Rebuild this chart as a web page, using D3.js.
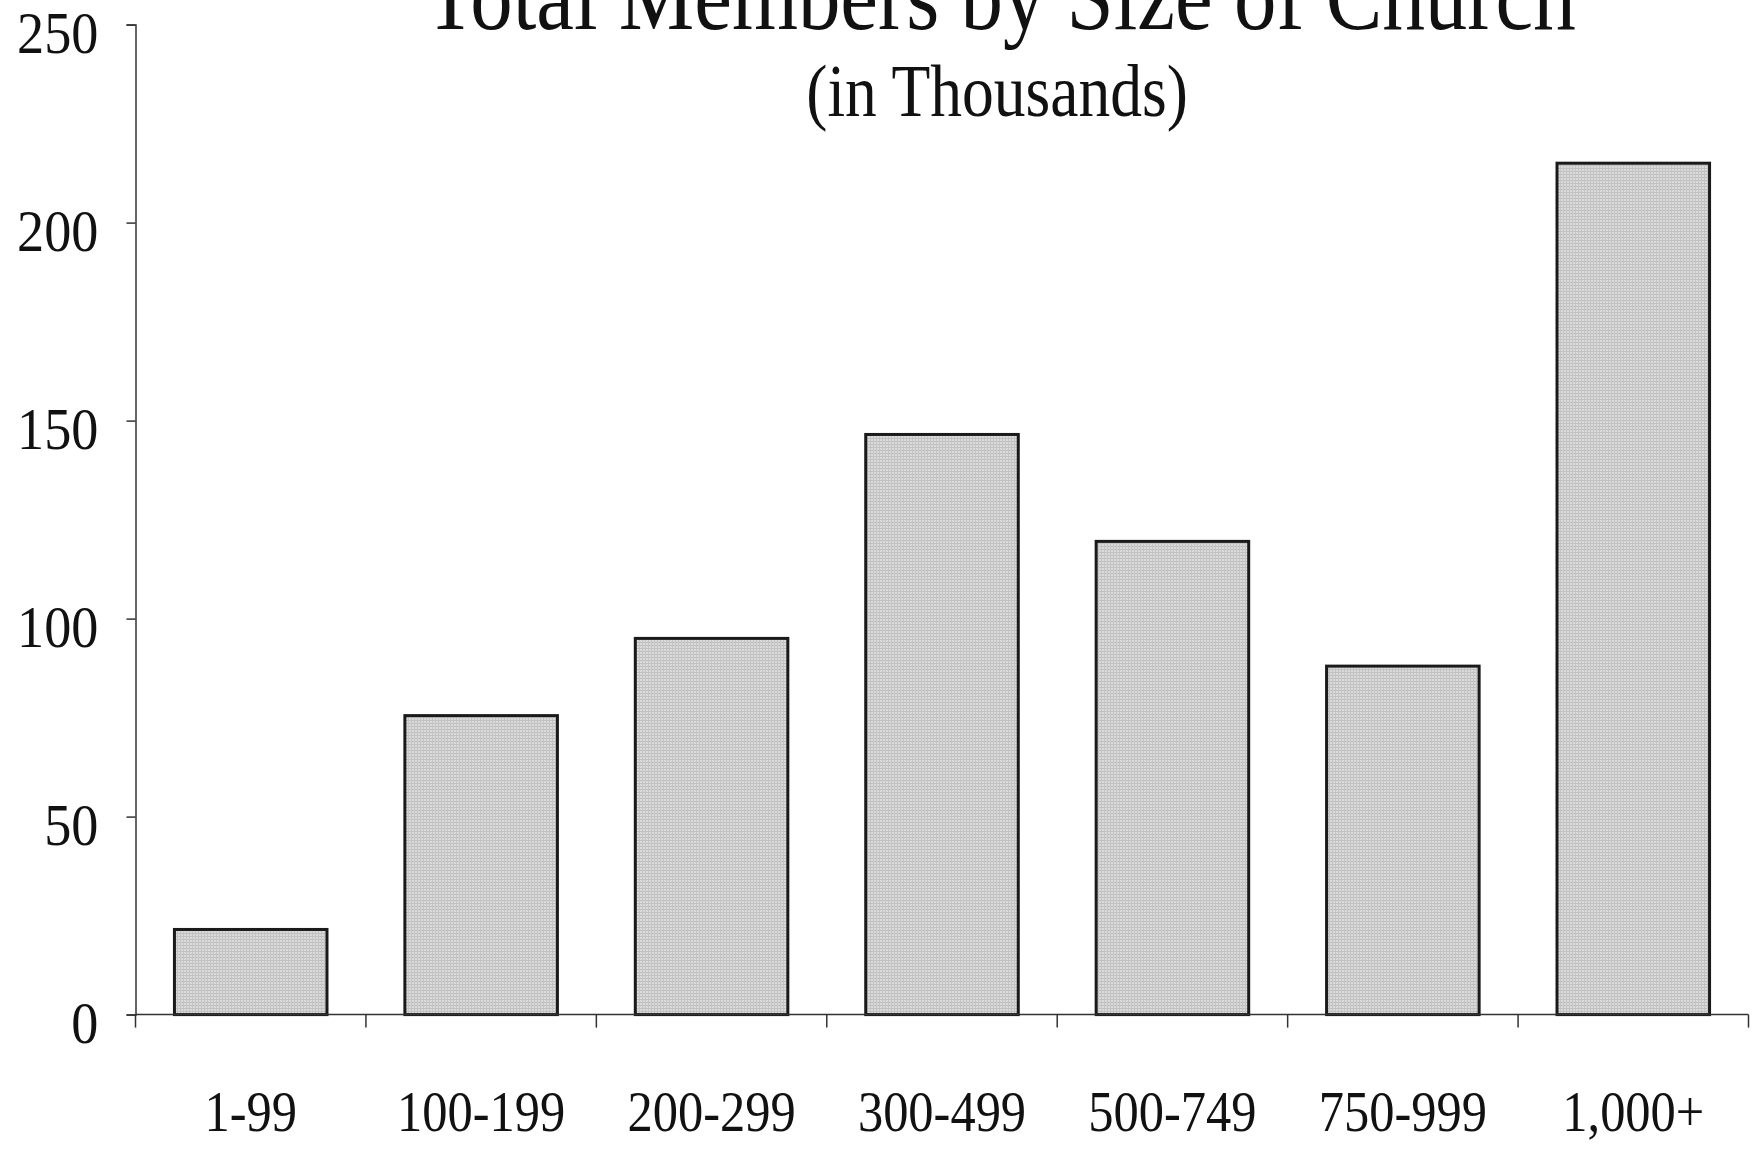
<!DOCTYPE html>
<html>
<head>
<meta charset="utf-8">
<script src="https://cdn.jsdelivr.net/npm/d3@7"></script>
<style>
  body { margin: 0; background: #fff; }
  svg { display: block; }
  text { font-family: "Liberation Serif", "Times New Roman", serif; fill: #111; }
</style>
</head>
<body>
<svg id="chart" width="1754" height="1151"></svg>
<script>
// ---- data ----
const categories = ["1-99", "100-199", "200-299", "300-499", "500-749", "750-999", "1,000+"];
const members = [21.5, 75.5, 95, 146.5, 119.5, 88, 215];
const yTicks = [0, 50, 100, 150, 200, 250];
const titleText = "Total Members by Size of Church";
const subtitleText = "(in Thousands)";

// ---- layout ----
const W = 1754, H = 1151;
const plot = { left: 135.5, right: 1748.5, top: 24.6, bottom: 1014.6 };

const svg = d3.select("#chart");

// halftone-ish grey fill like the scanned original
const defs = svg.append("defs");
const pat = defs.append("pattern")
    .attr("id", "screen")
    .attr("patternUnits", "userSpaceOnUse")
    .attr("width", 3).attr("height", 3);
pat.append("rect").attr("width", 3).attr("height", 3).attr("fill", "#dadada");
pat.append("rect").attr("width", 3).attr("height", 1).attr("fill", "#bfbfbf");
pat.append("rect").attr("width", 1).attr("height", 3).attr("fill", "#c4c4c4");

const x = d3.scaleBand()
    .domain(categories)
    .range([plot.left, plot.right])
    .paddingInner(0.338)
    .paddingOuter(0.169);

const y = d3.scaleLinear()
    .domain([0, 250])
    .range([plot.bottom, plot.top]);

// ---- bars ----
svg.append("g")
  .selectAll("rect")
  .data(members)
  .join("rect")
    .attr("x", (d, i) => x(categories[i]))
    .attr("y", d => y(d))
    .attr("width", x.bandwidth())
    .attr("height", d => y(0) - y(d))
    .attr("fill", "url(#screen)")
    .attr("stroke", "#1a1a1a")
    .attr("stroke-width", 3);

// ---- y axis ----
const ySq = 0.92;
const yAxis = svg.append("g")
    .attr("transform", `translate(${plot.left},0)`)
    .call(d3.axisLeft(y).tickValues(yTicks).tickSize(9).tickPadding(28).tickFormat(d3.format("d")));
yAxis.select(".domain").attr("stroke", "#333").attr("stroke-width", 1.5);
yAxis.selectAll(".tick line").attr("stroke", "#333").attr("stroke-width", 1.5);
yAxis.selectAll(".tick text")
    .attr("font-family", "Liberation Serif, Times New Roman, serif")
    .attr("font-size", 59)
    .attr("fill", "#111")
    .attr("dy", "0.47em")
    .attr("x", -(9 + 28) / ySq)
    .attr("transform", `scale(${ySq},1)`);

// ---- x axis: line with ticks at category boundaries ----
const bounds = d3.range(categories.length + 1).map(i => plot.left + i * x.step());
const xg = svg.append("g");
xg.append("line")
    .attr("x1", plot.left).attr("x2", plot.right)
    .attr("y1", y(0)).attr("y2", y(0))
    .attr("stroke", "#333").attr("stroke-width", 1.5);
xg.selectAll("line.tk")
  .data(bounds)
  .join("line")
    .attr("class", "tk")
    .attr("x1", d => d).attr("x2", d => d)
    .attr("y1", y(0)).attr("y2", y(0) + 13)
    .attr("stroke", "#333").attr("stroke-width", 1.5);

// category labels
const xSq = 0.87;
xg.selectAll("text")
  .data(categories)
  .join("text")
    .attr("text-anchor", "middle")
    .attr("font-size", 58)
    .attr("transform", d => `translate(${x(d) + x.bandwidth() / 2},1131) scale(${xSq},1)`)
    .text(d => d);

// ---- titles ----
svg.append("text")
    .attr("text-anchor", "middle")
    .attr("font-size", 97)
    .attr("transform", "translate(1000,29) scale(0.875,1)")
    .text(titleText);

svg.append("text")
    .attr("text-anchor", "middle")
    .attr("font-size", 73)
    .attr("transform", "translate(997,116) scale(0.87,1)")
    .text(subtitleText);
</script>
</body>
</html>
